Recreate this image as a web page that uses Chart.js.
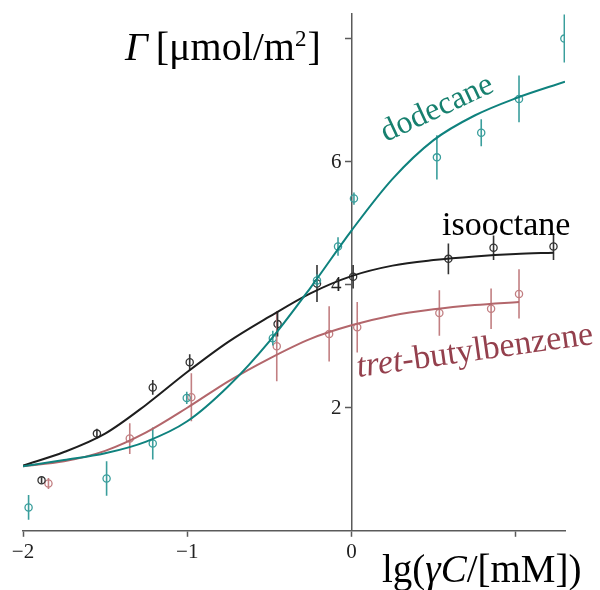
<!DOCTYPE html>
<html>
<head>
<meta charset="utf-8">
<script src="https://cdn.jsdelivr.net/npm/chart.js@4.4.1/dist/chart.umd.min.js"></script>
<style>
  html, body { margin: 0; padding: 0; background: #fff; }
</style>
</head>
<body>
<canvas id="chart" width="600" height="590"></canvas>
<script>
// Axis ticks
const xTicks = [-2, -1, 0, 1];
const xTickLabels = ['−2', '−1', '0', ''];
const yTicks = [2, 4, 6, 8];
const yTickLabels = ['2', '4', '6', ''];

// Measured adsorption, lg(γC/[mM]) vs Γ [μmol/m²], with error half-widths
const dodecaneX   = [-1.966, -1.491, -1.21, -1.003, -0.479, -0.21, -0.082, 0.015, 0.52, 0.79, 1.02, 1.296];
const dodecaneY   = [0.38, 0.85, 1.42, 2.16, 3.13, 4.07, 4.62, 5.40, 6.07, 6.47, 7.02, 8.00];
const dodecaneErr = [0.20, 0.28, 0.26, 0.10, 0.12, 0.10, 0.15, 0.10, 0.36, 0.22, 0.38, 0.39];

const isooctaneX   = [-1.887, -1.55, -1.21, -0.985, -0.45, -0.21, 0.01, 0.59, 0.865, 1.23];
const isooctaneY   = [0.82, 1.58, 2.33, 2.74, 3.36, 4.02, 4.13, 4.42, 4.60, 4.62];
const isooctaneErr = [0.05, 0.08, 0.12, 0.13, 0.20, 0.30, 0.19, 0.25, 0.20, 0.22];

const butylX   = [-1.845, -1.35, -0.975, -0.455, -0.136, 0.035, 0.535, 0.85, 1.02];
const butylY   = [0.77, 1.50, 2.17, 3.00, 3.20, 3.31, 3.54, 3.61, 3.85];
const butylErr = [0.09, 0.25, 0.39, 0.57, 0.45, 0.41, 0.37, 0.33, 0.40];

// Fitted isotherms
const dodecaneFitX = [-2, -1.75, -1.5, -1.25, -1, -0.75, -0.5, -0.25, 0, 0.25, 0.5, 0.75, 1.0, 1.3];
const dodecaneFitY = [1.05, 1.15, 1.26, 1.45, 1.78, 2.35, 3.08, 3.95, 4.88, 5.72, 6.35, 6.75, 7.03, 7.30];
const isooctaneFitX = [-2, -1.75, -1.5, -1.25, -1, -0.75, -0.5, -0.25, 0, 0.25, 0.5, 0.75, 1.0, 1.23];
const isooctaneFitY = [1.06, 1.28, 1.58, 2.05, 2.58, 3.07, 3.48, 3.86, 4.14, 4.31, 4.40, 4.46, 4.50, 4.52];
const butylFitX = [-2, -1.75, -1.5, -1.25, -1, -0.75, -0.5, -0.25, 0, 0.25, 0.5, 0.75, 1.02];
const butylFitY = [1.05, 1.13, 1.30, 1.60, 2.00, 2.43, 2.80, 3.12, 3.34, 3.50, 3.60, 3.67, 3.72];

const TEAL = '#0f827e', TEAL_PT = '#3a9e9c', TEAL_TXT = '#17806f';
const BLACK = '#1e1e1e', BLACK_PT = '#333333';
const RED = '#b3666b', RED_PT = '#c27f82', RED_TXT = '#94404d';
const SERIF = '"Liberation Serif", "Times New Roman", serif';

function toPoints(xs, ys) {
  return xs.map((x, i) => ({ x: x, y: ys[i] }));
}
function toErrorBars(xs, ys, es) {
  const out = [];
  xs.forEach((x, i) => {
    out.push({ x: x, y: ys[i] - es[i] }, { x: x, y: ys[i] + es[i] }, { x: x, y: null });
  });
  return out;
}

function fitLine(xs, ys, color) {
  return {
    data: toPoints(xs, ys), showLine: true, borderColor: color, borderWidth: 2,
    pointRadius: 0, pointHoverRadius: 0, cubicInterpolationMode: 'monotone', fill: false
  };
}
function errLine(xs, ys, es, color) {
  return {
    data: toErrorBars(xs, ys, es), showLine: true, spanGaps: false, borderColor: color,
    borderWidth: 1.6, pointRadius: 0, pointHoverRadius: 0, tension: 0, fill: false
  };
}
function markers(xs, ys, color) {
  return {
    data: toPoints(xs, ys), showLine: false, pointStyle: 'circle', pointRadius: 3.6,
    pointBorderWidth: 1.3, pointBorderColor: color, pointBackgroundColor: 'rgba(0,0,0,0)'
  };
}

// Text runs: sequence of pieces with their own font / vertical shift
function drawRuns(ctx, x, y, runs, color) {
  ctx.fillStyle = color;
  ctx.textBaseline = 'alphabetic';
  ctx.textAlign = 'left';
  let cx = x;
  runs.forEach(r => {
    ctx.font = r.font;
    cx += r.gap || 0;
    ctx.fillText(r.text, cx, y + (r.dy || 0));
    cx += ctx.measureText(r.text).width;
  });
}

const textPlugin = {
  id: 'plotText',
  afterDraw(chart) {
    const ctx = chart.ctx;
    const xs = chart.scales.x, ys = chart.scales.y;
    ctx.save();

    // y tick labels, set just left of the tick marks on the centred axis
    ctx.font = '21px ' + SERIF;
    ctx.fillStyle = '#222';
    ctx.textAlign = 'right';
    ctx.textBaseline = 'middle';
    const axisX = xs.getPixelForValue(0);
    yTicks.forEach((v, i) => {
      ctx.fillText(yTickLabels[i], axisX - 10, ys.getPixelForValue(v) + 1);
    });

    // vertical axis title
    drawRuns(ctx, 125, 60, [
      { text: 'Γ', font: 'italic 40px ' + SERIF },
      { text: '[μmol/m', font: '40px ' + SERIF, gap: 8 },
      { text: '2', font: '23px ' + SERIF, dy: -14 },
      { text: ']', font: '40px ' + SERIF, gap: 1 }
    ], '#000');
    // horizontal axis title
    drawRuns(ctx, 382, 582, [
      { text: 'lg(', font: '39px ' + SERIF },
      { text: 'γC', font: 'italic 39px ' + SERIF },
      { text: '/[mM])', font: '39px ' + SERIF }
    ], '#000');
    // curve labels
    drawRuns(ctx, 442, 235, [{ text: 'isooctane', font: '34px ' + SERIF }], '#000');

    ctx.save();
    ctx.translate(386, 142);
    ctx.rotate(-25 * Math.PI / 180);
    drawRuns(ctx, 0, 0, [{ text: 'dodecane', font: '32px ' + SERIF }], TEAL_TXT);
    ctx.restore();

    ctx.save();
    ctx.translate(358, 377);
    ctx.rotate(-8 * Math.PI / 180);
    drawRuns(ctx, 0, 0, [
      { text: 'tret', font: 'italic 34px ' + SERIF },
      { text: '-butylbenzene', font: '34px ' + SERIF }
    ], RED_TXT);
    ctx.restore();
    ctx.restore();
  }
};

new Chart(document.getElementById('chart'), {
  type: 'scatter',
  data: {
    datasets: [
      fitLine(dodecaneFitX, dodecaneFitY, TEAL),
      fitLine(isooctaneFitX, isooctaneFitY, BLACK),
      fitLine(butylFitX, butylFitY, RED),
      errLine(dodecaneX, dodecaneY, dodecaneErr, TEAL_PT),
      errLine(isooctaneX, isooctaneY, isooctaneErr, BLACK_PT),
      errLine(butylX, butylY, butylErr, RED_PT),
      markers(dodecaneX, dodecaneY, TEAL_PT),
      markers(isooctaneX, isooctaneY, BLACK_PT),
      markers(butylX, butylY, RED_PT)
    ]
  },
  options: {
    responsive: false,
    animation: false,
    events: [],
    layout: { padding: { left: 23, right: 35, top: 14, bottom: 22 } },
    plugins: { legend: { display: false }, tooltip: { enabled: false } },
    scales: {
      x: {
        type: 'linear', position: 'bottom', min: -2, max: 1.3,
        afterBuildTicks: s => { s.ticks = xTicks.map(v => ({ value: v })); },
        ticks: {
          autoSkip: false, maxRotation: 0, padding: 3, color: '#222',
          font: { family: SERIF, size: 21 },
          callback: v => xTickLabels[xTicks.indexOf(v)]
        },
        grid: { display: true, drawOnChartArea: false, drawTicks: true, tickLength: 6, tickColor: '#5a5a5a', tickWidth: 1.5 },
        border: { display: true, color: '#5a5a5a', width: 1.5 }
      },
      y: {
        type: 'linear', position: { x: 0 }, min: 0, max: 8.4,
        afterBuildTicks: s => { s.ticks = yTicks.map(v => ({ value: v })); },
        ticks: { display: false },
        grid: { display: true, drawOnChartArea: false, drawTicks: true, tickLength: 6, tickColor: '#5a5a5a', tickWidth: 1.5 },
        border: { display: true, color: '#5a5a5a', width: 1.5 }
      }
    }
  },
  plugins: [textPlugin]
});
</script>
</body>
</html>
